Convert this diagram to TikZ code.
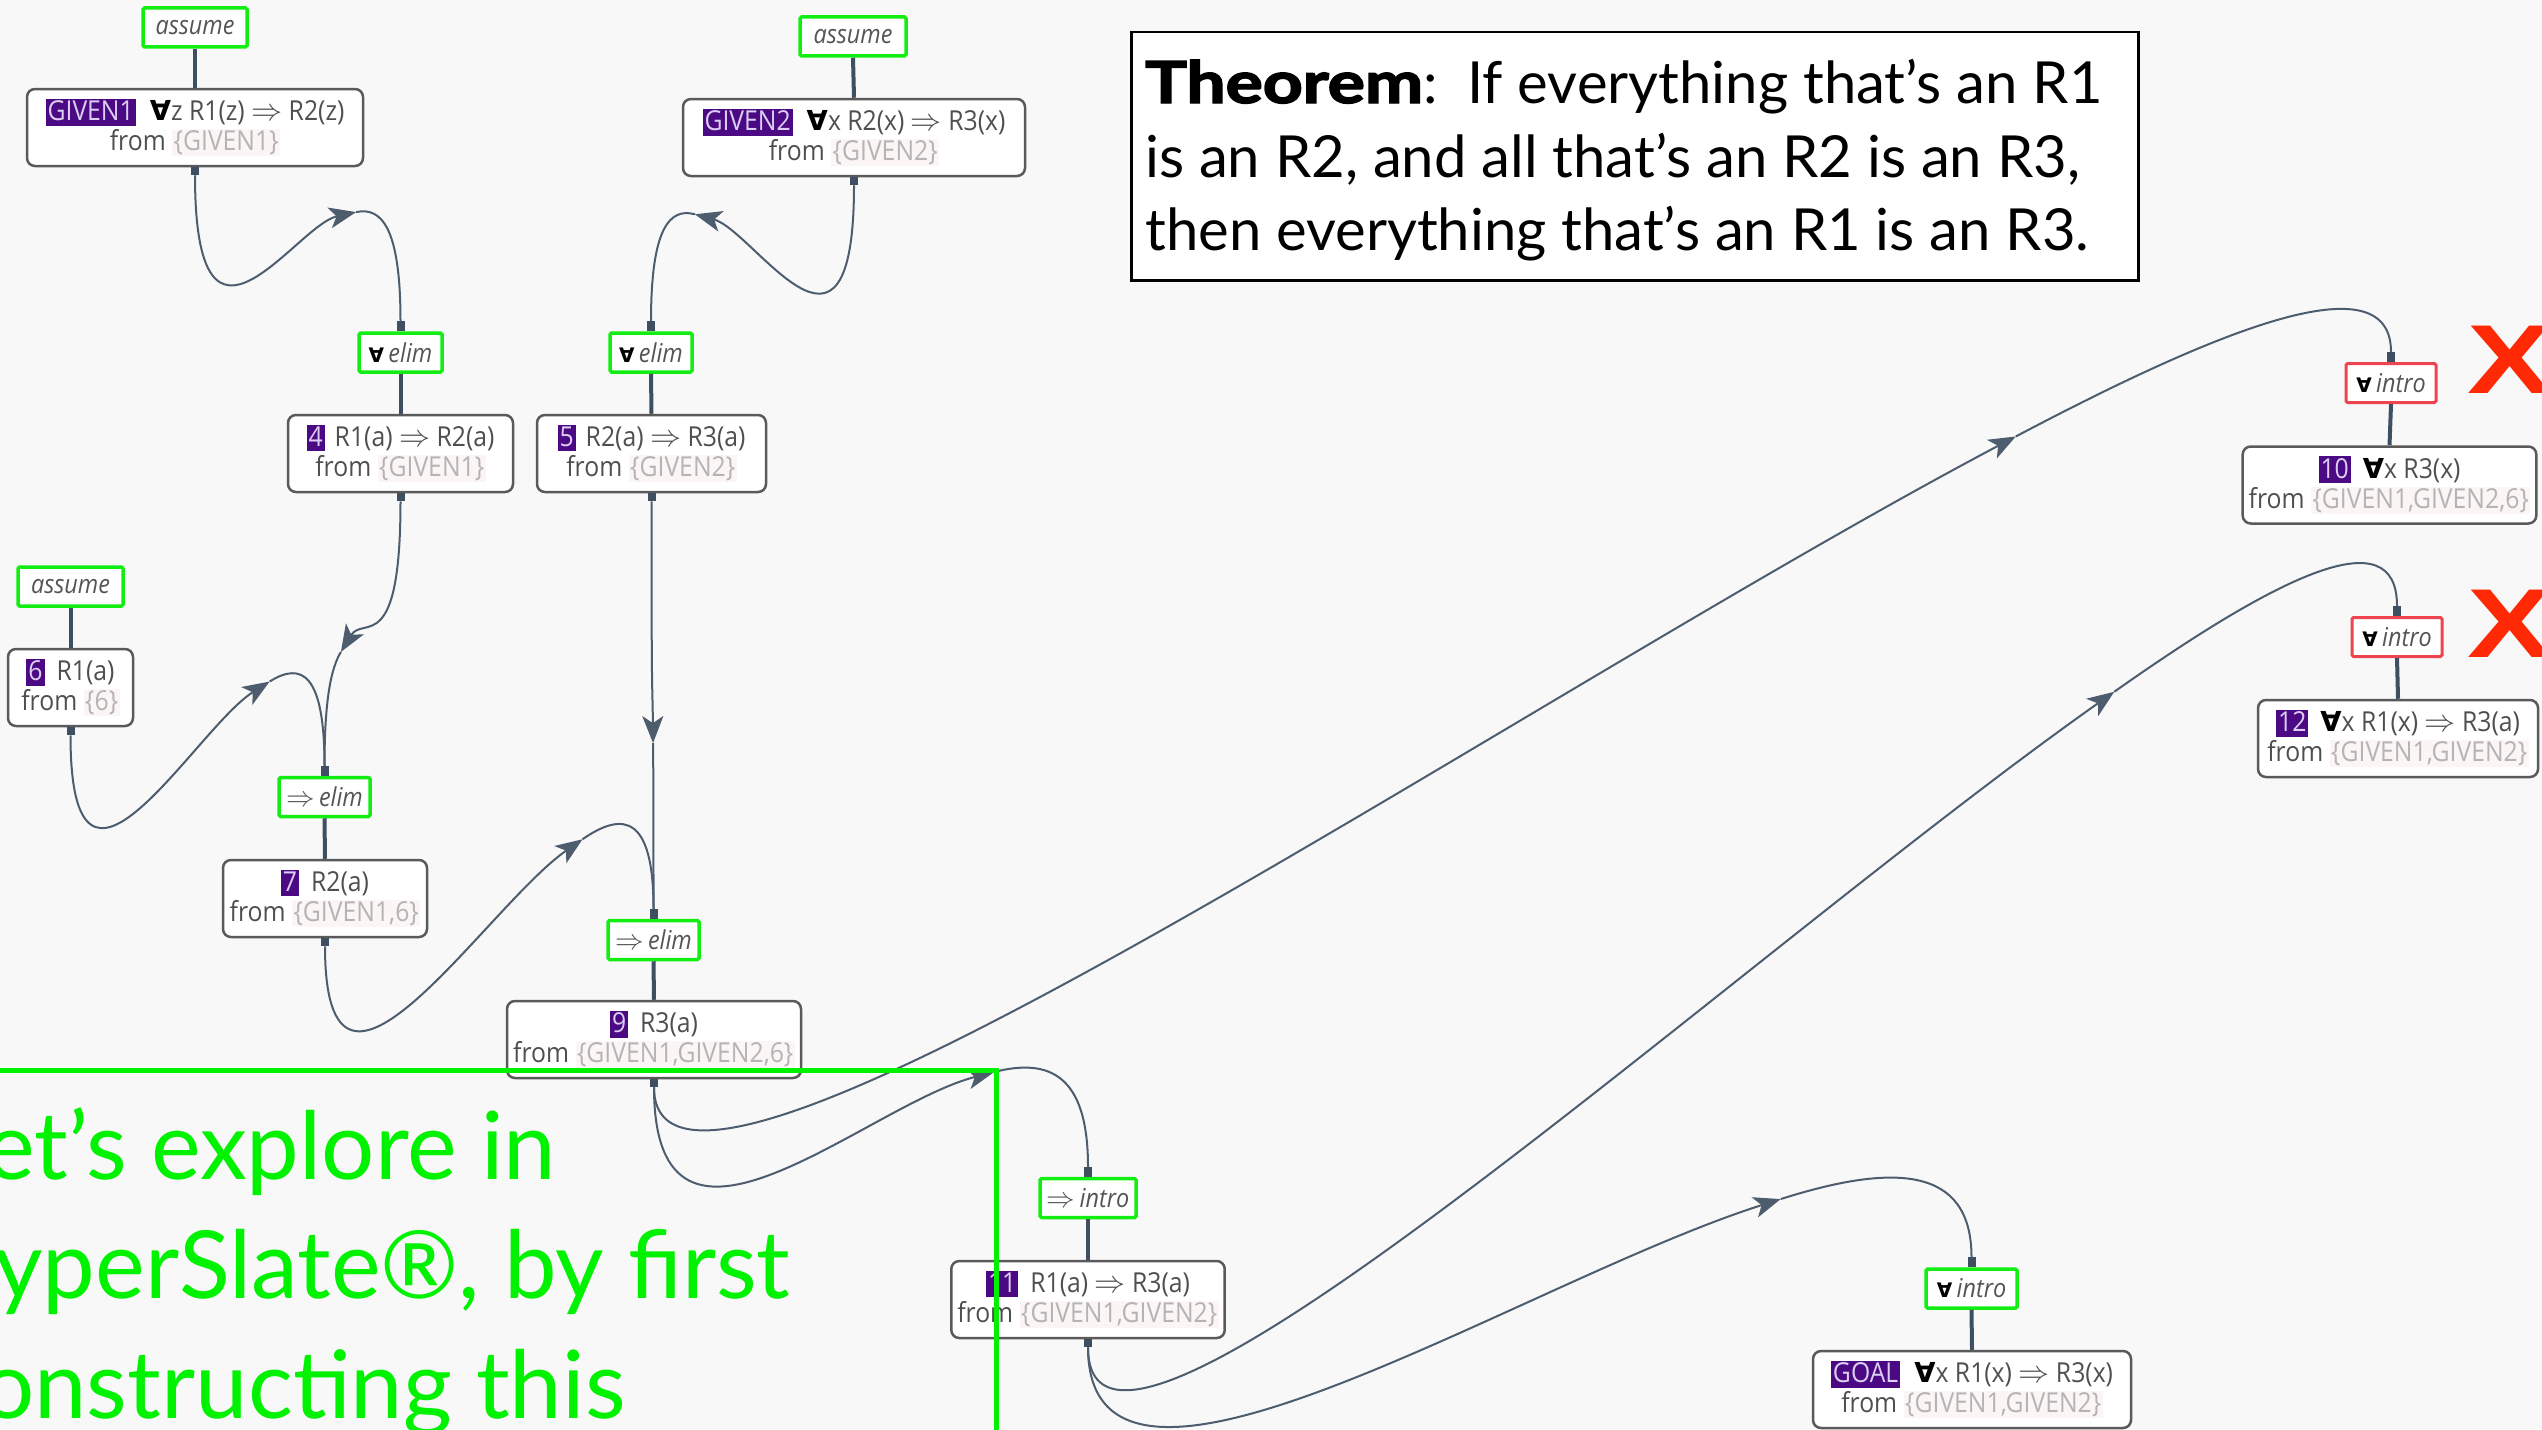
\documentclass[tikz,border=0pt]{standalone}
\usepackage{fontspec}
\setmainfont{Open Sans}[FakeStretch=0.9]
\newfontfamily\symfont{DejaVu Sans}
\newfontfamily\slidefont{Lato}
\newfontfamily\slideheavy{Lato}[FakeBold=2.5]
\newfontfamily\crossfont{Liberation Sans}
\usetikzlibrary{arrows.meta,calc}

\definecolor{canvas}{HTML}{F8F8F8}
\definecolor{boxline}{HTML}{5A5A5A}
\definecolor{formula}{HTML}{4F4F4F}
\definecolor{settxt}{HTML}{B4B4B4}
\definecolor{setbg}{HTML}{FBF5F5}
\definecolor{tagbg}{HTML}{4B0A84}
\definecolor{tagtxt}{HTML}{DCCEF2}
\definecolor{rulegreen}{HTML}{12EE12}
\definecolor{rulered}{HTML}{EE4450}
\definecolor{ruletxt}{HTML}{555555}
\definecolor{wire}{HTML}{3E4F62}
\definecolor{curvecol}{HTML}{4D5D6E}
\definecolor{slidegreen}{HTML}{00F200}
\definecolor{crossred}{HTML}{FF2A05}

% labels inside the statement boxes
\newcommand\ptag[1]{{\fboxsep=2pt\colorbox{tagbg}{\color{tagtxt}\rule[-3pt]{0pt}{22pt}#1}}}
\newcommand\pset[1]{{\fboxsep=1.5pt\colorbox{setbg}{\color{settxt}#1}}}
\newcommand\pall{{\symfont\bfseries\color{black}∀}}
\newcommand\pimp{\ \scalebox{1.25}{$\Rightarrow$}\ }
\newcommand\rall{{\symfont\bfseries\upshape\fontsize{20}{20}\selectfont\color{black}∀}}
\newcommand\rimp{{\upshape\scalebox{1.15}{$\Rightarrow$}}}

% proof edge: port under the premise, port over the rule,
% cubic with vertical tangents (reach #1) and an arrow at t=0.7
\newcommand\pedge[3][308]{%
  \fill[wire] ($(#2.south)+(-4,0)$) rectangle ($(#2.south)+(4,8)$);
  \fill[wire] ($(#3.north)+(-4,-10)$) rectangle ($(#3.north)+(4,0)$);
  \coordinate (p0) at ($(#2.south)+(0,8)$);
  \coordinate (p3) at ($(#3.north)+(0,-10)$);
  \coordinate (p1) at ($(p0)+(0,#1)$);
  \coordinate (p2) at ($(p3)+(0,-#1)$);
  \coordinate (q0) at ($(p0)!0.7!(p1)$);
  \coordinate (q1) at ($(p1)!0.7!(p2)$);
  \coordinate (q2) at ($(p2)!0.7!(p3)$);
  \coordinate (r0) at ($(q0)!0.7!(q1)$);
  \coordinate (r1) at ($(q1)!0.7!(q2)$);
  \coordinate (s) at ($(r0)!0.7!(r1)$);
  \draw[curve,-{Stealth[length=27pt,width=21pt,inset=7pt]}] (p0) .. controls (q0) and (r0) .. (s);
  \draw[curve] (s) .. controls (r1) and (q2) .. (p3);
}

\tikzset{
  stmt/.style={draw=boxline, line width=2.5pt, fill=white, rounded corners=8pt,
    align=center, minimum height=77pt, inner xsep=6pt, inner ysep=0pt,
    text=formula, font=\fontsize{27.5}{30}\selectfont},
  rulebox/.style={draw=rulegreen, line width=3.5pt, fill=white, rounded corners=1.5pt,
    minimum height=39pt, inner sep=0pt, text=ruletxt,
    font=\fontsize{26}{28}\selectfont\itshape},
  badrule/.style={rulebox, draw=rulered, line width=3pt},
  link/.style={draw=wire, line width=4pt},
  curve/.style={draw=curvecol, line width=2pt},
  thmtext/.style={anchor=base west, inner sep=0pt, text=black,
    font=\slidefont\fontsize{58}{66}\selectfont},
  slidetext/.style={anchor=base west, inner sep=0pt, text=slidegreen,
    font=\slidefont\fontsize{94}{112}\selectfont},
  cross/.style={inner sep=0pt, text=crossred,
    font=\crossfont\bfseries\fontsize{98}{98}\selectfont},
}

\begin{document}
\begin{tikzpicture}[x=1pt,y=-1pt]
\useasboundingbox (0,0) rectangle (2542,1429);
\clip (0,0) rectangle (2542,1429);
\fill[canvas] (0,0) rectangle (2542,1429);

% givens
\node[rulebox, minimum width=104pt] (as1) at (195,27.5) {assume};
\node[stmt, minimum width=336pt] (giv1) at (195,127.5)
  {\ptag{GIVEN1}\hspace{14pt}\pall z R1(z)\pimp R2(z)\\from \pset{\{GIVEN1\}}};
\node[rulebox, minimum width=106pt] (as2) at (853,36.5) {assume};
\node[stmt, minimum width=342pt] (giv2) at (854,137.5)
  {\ptag{GIVEN2}\hspace{14pt}\pall x R2(x)\pimp R3(x)\\from \pset{\{GIVEN2\}}};

% instantiations
\node[rulebox, minimum width=83pt] (ea1) at (400.5,352.5) {\rall\,elim};
\node[stmt, minimum width=225pt] (n4) at (400.5,453.5)
  {\ptag{4}\hspace{10pt}R1(a)\pimp R2(a)\\from \pset{\{GIVEN1\}}};
\node[rulebox, minimum width=82pt] (ea2) at (651,352.5) {\rall\,elim};
\node[stmt, minimum width=229pt] (n5) at (651.5,453.5)
  {\ptag{5}\hspace{10pt}R2(a)\pimp R3(a)\\from \pset{\{GIVEN2\}}};

% assumption of R1(a)
\node[rulebox, minimum width=105pt] (as3) at (70.5,586.5) {assume};
\node[stmt, minimum width=125pt] (n6) at (70.5,687.5)
  {\ptag{6}\hspace{12pt}R1(a)\\from \pset{\{6\}}};

% modus ponens steps
\node[rulebox, minimum width=91pt] (ei1) at (324.5,797) {\rimp\,elim};
\node[stmt, minimum width=204pt] (n7) at (325,898.5)
  {\ptag{7}\hspace{12pt}R2(a)\\from \pset{\{GIVEN1,6\}}};
\node[rulebox, minimum width=91pt] (ei2) at (653.5,940) {\rimp\,elim};
\node[stmt, minimum width=294pt] (n9) at (654,1039.5)
  {\ptag{9}\hspace{12pt}R3(a)\\from \pset{\{GIVEN1,GIVEN2,6\}}};

% conditional introduction
\node[rulebox, minimum width=96pt] (ii) at (1088,1198) {\rimp\,intro};
\node[stmt, minimum width=272pt] (n11) at (1088,1299.5)
  {\ptag{11}\hspace{12pt}R1(a)\pimp R3(a)\\from \pset{\{GIVEN1,GIVEN2\}}};

% rejected generalisations
\node[badrule, minimum width=90pt] (ar1) at (2391,383) {\rall\,intro};
\node[stmt, minimum width=293pt] (n10) at (2389.5,485)
  {\ptag{10}\hspace{12pt}\pall x R3(x)\\from \pset{\{GIVEN1,GIVEN2,6\}}};
\node[badrule, minimum width=90pt] (ar2) at (2397,637) {\rall\,intro};
\node[stmt, minimum width=280pt] (n12) at (2398,738.5)
  {\ptag{12}\hspace{12pt}\pall x R1(x)\pimp R3(a)\\from \pset{\{GIVEN1,GIVEN2\}}};

% goal
\node[rulebox, minimum width=91pt] (ag) at (1971.5,1288.5) {\rall\,intro};
\node[stmt, minimum width=318pt] (goal) at (1972,1389.5)
  {\ptag{GOAL}\hspace{14pt}\pall x R1(x)\pimp R3(x)\\from \pset{\{GIVEN1,GIVEN2\}}};

% rule-to-conclusion links
\foreach \r/\c in {as1/giv1, as2/giv2, ea1/n4, ea2/n5, as3/n6, ei1/n7,
                   ei2/n9, ii/n11, ar1/n10, ar2/n12, ag/goal}
  \draw[link] (\r.south) -- (\c.north);

% premise edges
\pedge{giv1}{ea1}
\pedge{giv2}{ea2}
\pedge[225]{n4}{ei1}
\pedge{n6}{ei1}
\pedge{n5}{ei2}
\pedge{n7}{ei2}
\pedge[295]{n9}{ar1}
\pedge{n9}{ii}
\pedge[295]{n11}{ar2}
\pedge{n11}{ag}

% failure marks
\node[cross] (x1) at (2510,360) {\scalebox{1.3}[1]{X}};
\node[cross] (x2) at (2510,624) {\scalebox{1.3}[1]{X}};

% theorem statement
\node[draw=black, line width=2.5pt, fill=white, minimum width=1007pt,
      minimum height=248pt, anchor=north west, inner sep=0pt] (thm) at (1130,31) {};
\node[thmtext] (th1) at (1145,103)
  {{\slideheavy\bfseries\scalebox{1.2}[1]{Theorem}}:\ \ If everything that’s an R1};
\node[thmtext] (th2) at (1145,177) {is an R2, and all that’s an R2 is an R3,};
\node[thmtext] (th3) at (1145,250) {then everything that’s an R1 is an R3.};

% slide overlay
\draw[slidegreen, line width=5pt] (-10,1070.5) -- (996.5,1070.5) -- (996.5,1445);
\node[slidetext] (gl1) at (-15,1179) {\llap{L}et’s explore in};
\node[slidetext] (gl2) at (-6,1298) {\llap{H}yperSlate®, by first};
\node[slidetext] (gl3) at (-19,1418) {\llap{c}onstructing this};
\end{tikzpicture}
\end{document}
